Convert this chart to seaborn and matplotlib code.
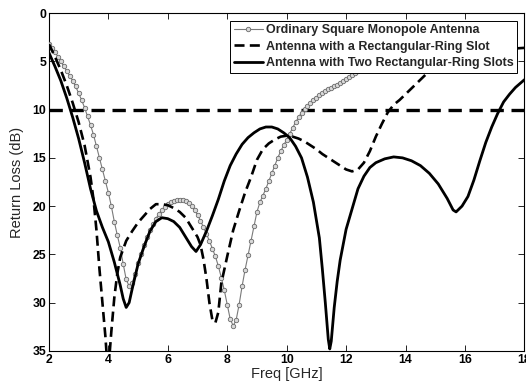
import numpy as np
import pandas as pd
import matplotlib
matplotlib.use("Agg")
import matplotlib.pyplot as plt
import seaborn as sns

# ---------------- data ----------------
ord_freq = [2.0, 2.1, 2.2, 2.3, 2.4, 2.5, 2.6, 2.7, 2.8, 2.9,
            3.0, 3.1, 3.2, 3.3, 3.4, 3.5, 3.6, 3.7, 3.8, 3.9,
            4.0, 4.1, 4.2, 4.3, 4.4, 4.5, 4.6, 4.7, 4.8, 4.9,
            5.0, 5.1, 5.2, 5.3, 5.4, 5.5, 5.6, 5.7, 5.8, 5.9,
            6.0, 6.1, 6.2, 6.3, 6.4, 6.5, 6.6, 6.7, 6.8, 6.9,
            7.0, 7.1, 7.2, 7.3, 7.4, 7.5, 7.6, 7.7, 7.8, 7.9,
            8.0, 8.1, 8.2, 8.3, 8.4, 8.5, 8.6, 8.7, 8.8, 8.9,
            9.0, 9.1, 9.2, 9.3, 9.4, 9.5, 9.6, 9.7, 9.8, 9.9,
            10.0, 10.1, 10.2, 10.3, 10.4, 10.5, 10.6, 10.7, 10.8, 10.9,
            11.0, 11.1, 11.2, 11.3, 11.4, 11.5, 11.6, 11.7, 11.8, 11.9,
            12.0, 12.1, 12.2, 12.3, 12.4, 12.6]
ord_rl = [3.2, 3.6, 4.0, 4.5, 5.0, 5.5, 6.0, 6.5, 7.0, 7.6,
          8.3, 9.0, 9.8, 10.7, 11.6, 12.6, 13.8, 15.0, 16.2, 17.4,
          18.6, 20.0, 21.6, 23.0, 24.3, 26.0, 27.6, 28.3, 28.0, 27.0,
          25.9, 25.0, 24.0, 23.2, 22.5, 21.9, 21.3, 20.8, 20.4, 20.1,
          19.8, 19.6, 19.5, 19.4, 19.4, 19.4, 19.5, 19.7, 20.0, 20.4,
          20.9, 21.5, 22.2, 22.9, 23.6, 24.4, 25.2, 26.2, 27.4, 28.7,
          30.2, 31.7, 32.4, 31.8, 30.2, 28.3, 26.6, 25.1, 23.6, 22.1,
          20.6, 19.6, 18.9, 18.2, 17.4, 16.6, 15.8, 15.0, 14.3, 13.7,
          13.1, 12.5, 11.9, 11.3, 10.8, 10.3, 9.95, 9.6, 9.3, 9.0,
          8.75, 8.5, 8.3, 8.1, 7.9, 7.75, 7.6, 7.4, 7.2, 7.0,
          6.8, 6.6, 6.4, 6.2, 6.0, 5.7]

one_freq = [2.0, 2.2, 2.4, 2.6, 2.8, 3.0, 3.2, 3.4, 3.5, 3.6,
            3.7, 3.8, 3.9, 3.98, 4.05, 4.1, 4.2, 4.3, 4.4, 4.6,
            4.8, 5.0, 5.2, 5.4, 5.6, 5.8, 6.0, 6.2, 6.4, 6.6,
            6.8, 7.0, 7.1, 7.2, 7.3, 7.4, 7.5, 7.6, 7.7, 7.8,
            8.0, 8.2, 8.4, 8.6, 8.8, 9.0, 9.2, 9.4, 9.6, 9.8,
            10.0, 10.2, 10.4, 10.6, 10.8, 11.0, 11.2, 11.4, 11.6, 11.8,
            12.0, 12.2, 12.4, 12.6, 12.8, 13.0, 13.2, 13.4, 13.6, 13.8,
            14.0, 14.4, 14.8, 15.2, 15.6, 16.0, 17.0, 18.0]
one_rl = [3.2, 4.5, 5.9, 7.5, 9.3, 11.3, 13.7, 17.0, 19.3, 22.5,
          26.5, 30.0, 33.5, 37.0, 35.0, 33.0, 29.5, 27.0, 25.3, 23.6,
          22.6, 21.7, 21.0, 20.3, 19.8, 19.8, 19.9, 20.2, 20.6, 21.2,
          22.2, 23.2, 24.0, 25.5, 27.5, 30.0, 31.8, 32.1, 31.0, 28.0,
          25.2, 22.5, 20.5, 18.6, 17.0, 15.2, 14.1, 13.5, 13.1, 12.8,
          12.7, 12.8, 13.0, 13.3, 13.7, 14.1, 14.6, 15.0, 15.4, 15.8,
          16.2, 16.4, 16.2, 15.5, 14.3, 12.8, 11.5, 10.3, 9.5, 9.0,
          8.4, 7.2, 6.0, 5.2, 4.6, 4.2, 3.8, 3.6]

two_freq = [2.0, 2.2, 2.4, 2.6, 2.8, 3.0, 3.2, 3.4, 3.6, 3.8,
            4.0, 4.2, 4.4, 4.5, 4.6, 4.7, 4.8, 5.0, 5.2, 5.4,
            5.6, 5.8, 6.0, 6.2, 6.4, 6.6, 6.8, 6.95, 7.1, 7.3,
            7.5, 7.7, 7.9, 8.1, 8.3, 8.5, 8.7, 8.9, 9.1, 9.3,
            9.5, 9.7, 9.9, 10.1, 10.3, 10.5, 10.7, 10.9, 11.1, 11.2,
            11.3, 11.4, 11.45, 11.5, 11.6, 11.7, 11.8, 12.0, 12.2, 12.4,
            12.6, 12.8, 13.0, 13.3, 13.6, 13.9, 14.2, 14.5, 14.8, 15.1,
            15.4, 15.6, 15.7, 15.9, 16.1, 16.3, 16.5, 16.7, 16.9, 17.1,
            17.3, 17.5, 17.7, 18.0]
two_rl = [4.1, 5.5, 7.0, 8.8, 10.8, 13.0, 15.5, 18.2, 20.5, 22.2,
          23.7, 25.8, 28.2, 29.6, 30.5, 30.0, 28.6, 26.0, 24.2, 22.6,
          21.6, 21.2, 21.3, 21.6, 22.2, 23.2, 24.2, 24.7, 24.0, 22.6,
          21.0, 19.3, 17.4, 15.8, 14.6, 13.6, 12.9, 12.4, 12.0, 11.8,
          11.8, 12.0, 12.4, 12.9, 13.8, 15.0, 17.0, 19.6, 23.3, 26.5,
          30.0, 33.8, 34.8, 34.0, 30.5, 27.8, 25.6, 22.4, 20.3, 18.2,
          16.9, 16.0, 15.5, 15.1, 14.9, 15.0, 15.3, 15.8, 16.6, 17.7,
          19.2, 20.4, 20.6, 20.0, 19.0, 17.3, 15.3, 13.4, 11.8, 10.4,
          9.2, 8.4, 7.7, 6.9]

THRESHOLD = 10
labels = ["Ordinary Square Monopole Antenna",
          "Antenna with a Rectangular-Ring Slot",
          "Antenna with Two Rectangular-Ring Slots"]
x_ticks = [2, 4, 6, 8, 10, 12, 14, 16, 18]
y_ticks = [0, 5, 10, 15, 20, 25, 30, 35]

# ---------------- plotting ----------------
sns.set_style("ticks")
plt.rcParams["font.family"] = ["Liberation Sans", "DejaVu Sans"]

fig = plt.figure(figsize=(5.26, 3.86), dpi=100)
ax = fig.add_axes([0.093, 0.091, 0.904, 0.875])

df_ord = pd.DataFrame({"f": ord_freq, "rl": ord_rl})
df_one = pd.DataFrame({"f": one_freq, "rl": one_rl})
df_two = pd.DataFrame({"f": two_freq, "rl": two_rl})

ax.axhline(THRESHOLD, color="black", lw=2.4, dashes=(4.0, 2.3), zorder=1)

sns.lineplot(data=df_ord, x="f", y="rl", ax=ax, sort=False, estimator=None,
             color="#7a7a7a", lw=0.8, marker="o", markersize=3.2,
             markerfacecolor="#d8d8d8", markeredgecolor="#6a6a6a",
             markeredgewidth=0.6, label=labels[0], zorder=3)
sns.lineplot(data=df_one, x="f", y="rl", ax=ax, sort=False, estimator=None,
             color="black", lw=1.9, dashes=False, label=labels[1], zorder=4)
ax.lines[-1].set_dashes((3.8, 2.0))
sns.lineplot(data=df_two, x="f", y="rl", ax=ax, sort=False, estimator=None,
             color="black", lw=2.0, label=labels[2], zorder=4)

ax.set_xlim(2, 18)
ax.set_ylim(35, 0)
ax.set_xticks(x_ticks)
ax.set_yticks(y_ticks)
ax.set_xticklabels([str(t) for t in x_ticks], fontweight="bold", fontsize=8.8)
ax.set_yticklabels([str(t) for t in y_ticks], fontweight="bold", fontsize=8.8)
ax.tick_params(direction="in", top=True, right=True, length=4, width=0.6,
               colors="black", pad=2)
for s in ax.spines.values():
    s.set_linewidth(0.8)
    s.set_color("black")
ax.set_xlabel("Freq [GHz]", fontsize=10.5, labelpad=1)
ax.set_ylabel("Return Loss (dB)", fontsize=10.5, labelpad=6)

leg = ax.legend(loc="upper right", bbox_to_anchor=(0.99, 0.985),
                prop={"weight": "bold", "size": 9.0},
                frameon=True, fancybox=False, framealpha=1,
                edgecolor="black", borderpad=0.3, labelspacing=0.35,
                handlelength=2.3, handletextpad=0.25, borderaxespad=0.2)
leg.get_frame().set_linewidth(0.7)

fig.savefig("out.png", dpi=100)
